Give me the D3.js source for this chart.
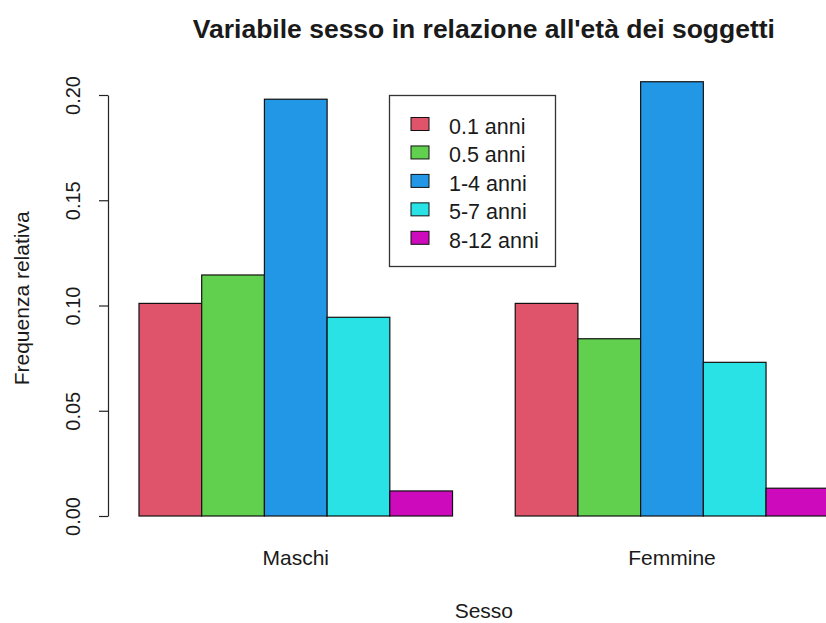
<!DOCTYPE html>
<html>
<head>
<meta charset="utf-8">
<script src="https://cdn.jsdelivr.net/npm/d3@7"></script>
<style>
  html, body { margin: 0; padding: 0; background: #fff; }
  svg { display: block; }
  text { font-family: "Liberation Sans", Arial, Helvetica, sans-serif; fill: #1a1a1a; }
</style>
</head>
<body>
<script>
// ---- data ----
const title = "Variabile sesso in relazione all'età dei soggetti";
const groups = ["Maschi", "Femmine"];
const ageClasses = ["0.1 anni", "0.5 anni", "1-4 anni", "5-7 anni", "8-12 anni"];
const maschi  = [0.101, 0.1145, 0.198, 0.0944, 0.0119];
const femmine = [0.101, 0.0842, 0.2063, 0.073, 0.0132];
const colors  = ["#DF536B", "#61D04F", "#2297E6", "#28E2E5", "#CD0BBC"];
const yTicks  = [0, 0.05, 0.10, 0.15, 0.20];
const xLabel = "Sesso";
const yLabel = "Frequenza relativa";

const W = 826, H = 623;
const svg = d3.select("body").append("svg").attr("width", W).attr("height", H);

// R barplot user coordinates: bars of width 1, groups separated by 1 unit
const x = d3.scaleLinear().domain([0.5, 12.5]).range([107.65, 860.1]);
const y = d3.scaleLinear().domain([0, 0.2]).range([516, 95]);

const series = [maschi, femmine];
const bars = [];
series.forEach((vals, g) => {
  vals.forEach((v, j) => {
    bars.push({ g, j, v, left: 1 + g * 6 + j });
  });
});

svg.append("g").selectAll("rect").data(bars).enter().append("rect")
  .attr("x", d => x(d.left))
  .attr("y", d => y(d.v))
  .attr("width", d => x(d.left + 1) - x(d.left))
  .attr("height", d => y(0) - y(d.v))
  .attr("fill", d => colors[d.j])
  .attr("stroke", "#111")
  .attr("stroke-width", 1.2);

// group labels at centre of each group
svg.append("g").selectAll("text").data(groups).enter().append("text")
  .attr("x", (d, g) => x(1 + g * 6 + 2.5))
  .attr("y", 565)
  .attr("text-anchor", "middle")
  .style("font-size", "21px")
  .text(d => d);

// y axis
const yAxis = d3.axisLeft(y).tickValues(yTicks).tickFormat(d3.format(".2f")).tickSize(9).tickSizeOuter(0);
const ax = svg.append("g").attr("transform", "translate(108,0)").call(yAxis);
ax.select(".domain").attr("stroke", "#222").attr("stroke-width", 1.2);
ax.selectAll(".tick line").attr("stroke", "#222").attr("stroke-width", 1.2);
ax.selectAll(".tick text")
  .attr("x", null).attr("dy", null)
  .attr("transform", "translate(-28,0) rotate(-90)")
  .attr("text-anchor", "middle")
  .attr("fill", "#1a1a1a")
  .style("font-size", "20px")
  .style("font-family", "'Liberation Sans', Arial, sans-serif");

// axis titles
svg.append("text")
  .attr("transform", `translate(29,${y(0.1034)}) rotate(-90)`)
  .attr("text-anchor", "middle")
  .style("font-size", "21px")
  .text(yLabel);

svg.append("text")
  .attr("x", x(6.5)).attr("y", 618)
  .attr("text-anchor", "middle")
  .style("font-size", "21px")
  .text(xLabel);

// title
svg.append("text")
  .attr("x", x(6.5)).attr("y", 38)
  .attr("text-anchor", "middle")
  .style("font-size", "26.5px")
  .style("font-weight", "bold")
  .attr("fill", "#000")
  .text(title);

// legend
const lg = svg.append("g");
lg.append("rect")
  .attr("x", 389.5).attr("y", 95.5).attr("width", 166).attr("height", 171)
  .attr("fill", "#fff").attr("stroke", "#333").attr("stroke-width", 1.3);
const rows = lg.selectAll("g.row").data(ageClasses).enter().append("g")
  .attr("transform", (d, i) => `translate(0,${124 + i * 28.45})`);
rows.append("rect")
  .attr("x", 411).attr("y", -6.5).attr("width", 18).attr("height", 13)
  .attr("fill", (d, i) => colors[i]).attr("stroke", "#111").attr("stroke-width", 1);
rows.append("text")
  .attr("x", 449).attr("y", 10)
  .style("font-size", "21.5px")
  .text(d => d);
</script>
</body>
</html>
